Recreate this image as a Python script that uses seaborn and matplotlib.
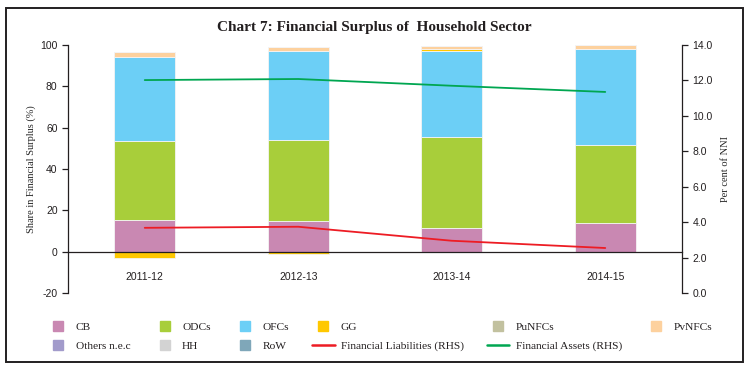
import matplotlib
matplotlib.use("Agg")
import matplotlib.pyplot as plt
import matplotlib.patches as mpatches
from matplotlib.lines import Line2D
import seaborn as sns
import numpy as np
import pandas as pd

# Data
years = ['2011-12', '2012-13', '2013-14', '2014-15']
cb = [15.2, 14.7, 11.5, 13.7]
odcs = [38.4, 39.4, 44.2, 38.1]
ofcs = [40.8, 43.1, 41.6, 46.1]
gg = [-3.2, -1.2, 0.6, 0.0]
punfcs = [0.0, 0.0, 0.0, 0.0]
pvnfcs = [2.3, 1.9, 1.6, 2.1]
others = [0.0, 0.0, 0.0, 0.0]
hh = [0.0, 0.0, 0.0, 0.0]
row = [0.0, 0.0, 0.0, 0.0]
fin_liab = [3.68, 3.74, 2.95, 2.54]
fin_assets = [12.02, 12.08, 11.70, 11.35]

series = {
    'CB': (cb, '#C988B2'),
    'ODCs': (odcs, '#A8CE3A'),
    'OFCs': (ofcs, '#6CCFF6'),
    'GG': (gg, '#FFC800'),
    'PuNFCs': (punfcs, '#C2C19F'),
    'PvNFCs': (pvnfcs, '#FDD19E'),
    'Others n.e.c': (others, '#A29BCB'),
    'HH': (hh, '#D3D3D3'),
    'RoW': (row, '#7FA7B9'),
}

sns.set_style("white")
plt.rcParams['axes.unicode_minus'] = False
serif = 'Liberation Serif'
sans = 'Liberation Sans'

fig = plt.figure(figsize=(7.48, 3.67), dpi=100)
ax = fig.add_axes([68 / 748, 1 - 293 / 367, (682 - 68) / 748, (293 - 45) / 367])

# stacked bars: positives upward, negatives downward
pos_base = np.zeros(len(years))
neg_base = np.zeros(len(years))
for name, (vals, col) in series.items():
    vals = np.array(vals, dtype=float)
    base = np.where(vals >= 0, pos_base, neg_base)
    df = pd.DataFrame({'year': years, 'value': vals})
    sns.barplot(data=df, x='year', y='value', bottom=base, color=col, width=0.4,
                errorbar=None, edgecolor='#f4f4f4', linewidth=0.6, ax=ax,
                saturation=1)
    pos_base += np.where(vals >= 0, vals, 0)
    neg_base += np.where(vals < 0, vals, 0)

ax.set_xlim(-0.5, 3.5)
ax.set_ylim(-20, 100)
ax.set_yticks(range(-20, 101, 20))
ax.set_xlabel('')
ax.set_ylabel('Share in Financial Surplus (%)', fontsize=7.5, family=serif, labelpad=3)

for s in ['top', 'right']:
    ax.spines[s].set_visible(False)
ax.spines['bottom'].set_position(('data', 0))
for s in ['left', 'bottom']:
    ax.spines[s].set_color('#231F20')
    ax.spines[s].set_linewidth(0.9)

ax.set_xticks(range(len(years)))
ax.set_xticklabels(years, family=sans, fontsize=7.5, color='#231F20')
ax.set_xticks([0.5, 1.5, 2.5], minor=True)
ax.tick_params(axis='x', which='major', length=0, pad=15)
ax.tick_params(axis='x', which='minor', length=4, width=0.9, direction='out', color='#231F20')
ax.tick_params(axis='y', left=True, length=4, width=0.9, direction='out', color='#231F20',
               labelsize=7.5, labelcolor='#231F20')
for lab in ax.get_yticklabels():
    lab.set_family(sans)

# lines on right axis
ax2 = ax.twinx()
ax2.plot(range(len(years)), fin_liab, color='#ED1C24', lw=1.3)
ax2.plot(range(len(years)), fin_assets, color='#00A651', lw=1.3)
ax2.set_ylim(0, 14)
ax2.set_yticks(np.arange(0, 14.1, 2))
ax2.set_yticklabels([f'{v:.1f}' for v in np.arange(0, 14.1, 2)], family=sans)
ax2.set_ylabel('Per cent of NNI', fontsize=7.5, family=serif, labelpad=6)
for s in ['top', 'left', 'bottom']:
    ax2.spines[s].set_visible(False)
ax2.spines['right'].set_color('#231F20')
ax2.spines['right'].set_linewidth(0.9)
ax2.tick_params(axis='y', right=True, length=4, width=0.9, direction='out', color='#231F20',
                labelsize=7.5, labelcolor='#231F20')
ax2.grid(False)
ax.grid(False)

fig.text(0.5, 1 - 27 / 367, 'Chart 7: Financial Surplus of  Household Sector',
         ha='center', va='center', family=serif, fontweight='bold', fontsize=11,
         color='#231F20')

# legend, six columns, two rows (legend fills column by column)
handles = []
labels = []
for name, (vals, col) in series.items():
    handles.append(Line2D([], [], marker='s', markersize=6.5, color=col, linestyle='None'))
    labels.append(name)
handles.append(Line2D([], [], color='#ED1C24', lw=1.8))
labels.append('Financial Liabilities (RHS)')
handles.append(Line2D([], [], color='#00A651', lw=1.8))
labels.append('Financial Assets (RHS)')
order = [0, 6, 1, 7, 2, 8, 3, 9, 4, 10, 5]
fig.legend([handles[i] for i in order], [labels[i] for i in order], ncol=6,
           loc='upper left', bbox_to_anchor=(41 / 748, 1 - 316 / 367), frameon=False,
           prop={'family': serif, 'size': 8.2}, handlelength=2.0, handletextpad=0.55,
           columnspacing=2.0, labelspacing=0.8, borderpad=0, numpoints=1,
           labelcolor='#231F20')

fig.patches.append(mpatches.Rectangle((6 / 748, 1 - 362 / 367), 737 / 748, 354 / 367,
                                      transform=fig.transFigure, fill=False,
                                      edgecolor='#231F20', linewidth=1.4))

fig.savefig('out.png', dpi=100)
